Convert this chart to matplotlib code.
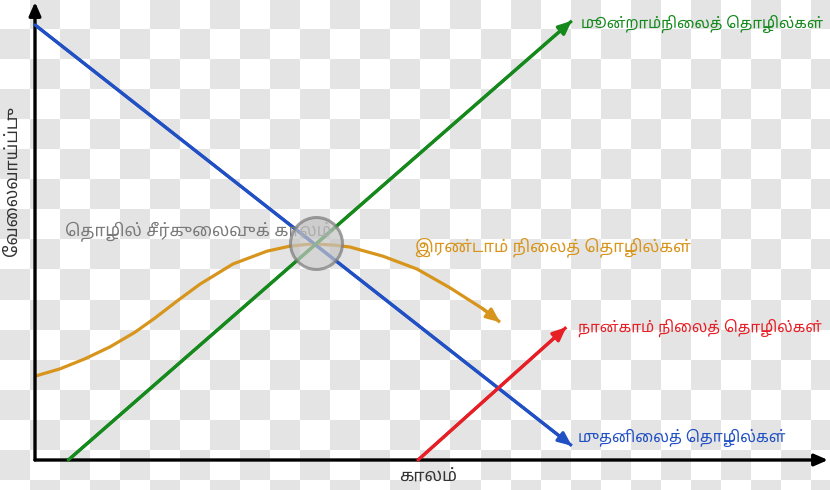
#!/usr/bin/env python3
"""
Sector shift diagram (Tamil): employment in the four sectors of the economy over time.
"""

import numpy as np
import matplotlib.pyplot as plt
from matplotlib import font_manager
from matplotlib.colors import ListedColormap
from matplotlib.ft2font import FT2Font

# =============================================================================
# DATA  (time 0-100 on x, employment 0-100 on y)
# =============================================================================

PRIMARY_T = [0.0, 67.7]
PRIMARY_E = [95.0, 3.1]

TERTIARY_T = [4.2, 67.7]
TERTIARY_E = [0.0, 95.9]

QUATERNARY_T = [48.3, 67.0]
QUATERNARY_E = [0.0, 29.0]

SECONDARY_T = [0.0, 3.15, 6.31, 9.46, 12.61, 15.13, 17.91, 20.81, 24.97, 29.26,
               32.16, 35.06, 37.83, 39.72, 43.88, 48.17, 52.33, 56.49, 58.64]
SECONDARY_E = [18.3, 19.9, 22.1, 24.7, 27.9, 31.0, 34.7, 38.4, 42.8, 45.6,
               46.7, 47.2, 46.9, 46.5, 44.5, 41.7, 37.6, 33.0, 30.1]

CRISIS_T = 35.4
CRISIS_E = 47.4

LABEL_PRIMARY = "முதனிலைத் தொழில்கள்"
LABEL_SECONDARY = "இரண்டாம் நிலைத் தொழில்கள்"
LABEL_TERTIARY = "மூன்றாம்நிலைத் தொழில்கள்"
LABEL_QUATERNARY = "நான்காம் நிலைத் தொழில்கள்"
LABEL_CRISIS = "தொழில் சீர்குலைவுக் காலம்"
X_LABEL = "காலம்"
Y_LABEL = "வேலைவாய்ப்பு"

BLUE = "#2150c4"
GREEN = "#15891c"
RED = "#e61f27"
ORANGE = "#d8951c"
GRAY = "#7a7a7a"

PREFERRED = ["Noto Sans Tamil", "Noto Sans Tamil UI", "Lohit Tamil", "Hind Madurai",
             "Catamaran", "Mukta Malar", "Anek Tamil"]


def tamil_fonts():
    names = []
    for f in font_manager.fontManager.ttflist:
        try:
            if ord("த") in FT2Font(f.fname).get_charmap() and f.name not in names:
                names.append(f.name)
        except Exception:
            pass
    return names


# matplotlib does no complex shaping, so put the prefix vowel signs in visual order
PREFIX = {"\u0bc6", "\u0bc7", "\u0bc8"}
SPLIT = {"\u0bca": ("\u0bc6", "\u0bbe"), "\u0bcb": ("\u0bc7", "\u0bbe"),
         "\u0bcc": ("\u0bc6", "\u0bd7")}


def visual(s):
    out = []
    for c in s:
        if c in PREFIX and out:
            out.insert(len(out) - 1, c)
        elif c in SPLIT and out:
            pre, post = SPLIT[c]
            out.insert(len(out) - 1, pre)
            out.append(post)
        else:
            out.append(c)
    return "".join(out)


FOUND = tamil_fonts()
CHOSEN = [n for n in PREFERRED if n in FOUND][:1] or FOUND[:1]
plt.rcParams["font.family"] = CHOSEN + ["DejaVu Sans"]


def main():
    fig = plt.figure(figsize=(8.3, 4.9), dpi=100)

    # checkerboard backdrop
    bg = fig.add_axes([0, 0, 1, 1])
    rows, cols = np.indices((17, 28))
    bg.imshow((rows + cols) % 2, cmap=ListedColormap(["white", "#e4e4e4"]),
              extent=[0, 840, 510, 0], interpolation="nearest", aspect="auto")
    bg.set_xlim(0, 830)
    bg.set_ylim(490, 0)
    bg.axis("off")

    ax = fig.add_axes([35 / 830, 30 / 490, 793 / 830, 458 / 490])
    ax.patch.set_alpha(0)
    ax.set_xlim(0, 100)
    ax.set_ylim(0, 100)
    ax.axis("off")

    # axes arrows
    axis_arrow = dict(arrowstyle="-|>,head_length=0.8,head_width=0.35", color="black",
                      lw=2.4, shrinkA=0, shrinkB=0)
    ax.annotate("", xy=(0, 100), xytext=(0, 0), arrowprops=axis_arrow, annotation_clip=False)
    ax.annotate("", xy=(100, 0), xytext=(0, 0), arrowprops=axis_arrow, annotation_clip=False)

    def arrow_line(t, e, color):
        ax.plot(t, e, color=color, lw=2.3, solid_capstyle="butt",
                solid_joinstyle="round", clip_on=False)
        ax.annotate("", xy=(t[-1], e[-1]), xytext=(t[-2], e[-2]),
                    arrowprops=dict(arrowstyle="-|>,head_length=0.8,head_width=0.35",
                                    color=color, lw=2.3, shrinkA=0, shrinkB=0),
                    annotation_clip=False)

    arrow_line(PRIMARY_T, PRIMARY_E, BLUE)
    arrow_line(TERTIARY_T, TERTIARY_E, GREEN)
    arrow_line(QUATERNARY_T, QUATERNARY_E, RED)
    arrow_line(SECONDARY_T, SECONDARY_E, ORANGE)

    # crisis period label and circle
    ax.text(3.8, 50.0, visual(LABEL_CRISIS), color=GRAY, fontsize=12.3, va="center", ha="left")
    ax.scatter([CRISIS_T], [CRISIS_E], s=1400, facecolor="#c4c4c4", alpha=0.7,
               edgecolor="#7a7a7a", linewidth=2.2, zorder=5, clip_on=False)

    # series labels
    ax.text(68.8, 95.2, visual(LABEL_TERTIARY), color=GREEN, fontsize=10.9, va="center")
    ax.text(47.9, 46.5, visual(LABEL_SECONDARY), color=ORANGE, fontsize=12.0, va="center")
    ax.text(68.5, 28.8, visual(LABEL_QUATERNARY), color=RED, fontsize=11.0, va="center")
    ax.text(68.5, 4.8, visual(LABEL_PRIMARY), color=BLUE, fontsize=11.2, va="center")

    ax.text(49.6, -3.4, visual(X_LABEL), color="#333333", fontsize=12.5, ha="center", va="center")
    ax.text(-2.9, 60.9, visual(Y_LABEL), color="#333333", fontsize=12.5, ha="center", va="center",
            rotation=90)

    fig.savefig("out.png", dpi=100)


if __name__ == "__main__":
    main()
